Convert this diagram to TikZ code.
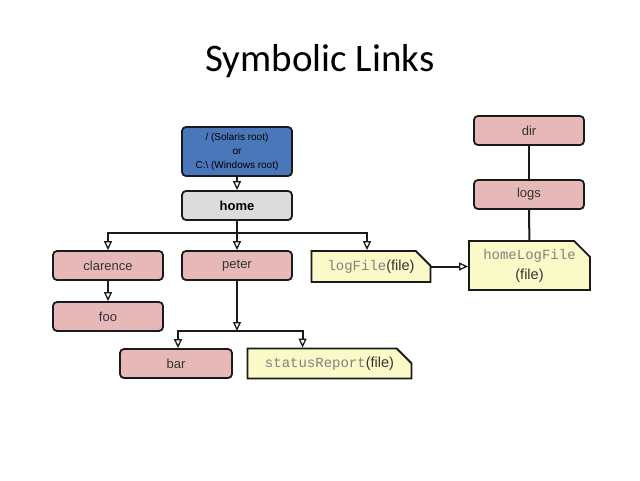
\documentclass[tikz,border=0pt]{standalone}
\usepackage{fontspec}
\setmainfont{Liberation Sans}
\setmonofont{Liberation Mono}
\newfontfamily\titlefont{Carlito}
\usetikzlibrary{arrows.meta,shapes.misc}
\definecolor{pinkfill}{HTML}{E6B9B8}
\definecolor{bluefill}{HTML}{4A76BA}
\definecolor{grayfill}{HTML}{DCDCDC}
\definecolor{filefill}{HTML}{FAFAC8}
\definecolor{edge}{HTML}{1A1A1A}
\definecolor{labeltext}{HTML}{333333}
\definecolor{monotext}{HTML}{808080}
\tikzset{
  box/.style={draw=edge, line width=1.8pt, rounded corners=4pt, minimum width=110pt,
    minimum height=29pt, inner sep=0pt, text=labeltext, font=\fontsize{13}{15}\selectfont},
  dirbox/.style={box, fill=pinkfill},
  filebox/.style={draw=edge, line width=1.8pt, chamfered rectangle,
    chamfered rectangle corners=north east, chamfered rectangle xsep=8pt,
    chamfered rectangle ysep=8pt, fill=filefill, inner sep=0pt, text=labeltext,
    font=\fontsize{14.5}{15}\selectfont, align=center},
  arr/.style={edge, line width=2pt, -{Triangle[open, width=8pt, length=9pt, line width=1.3pt]}},
  ln/.style={edge, line width=2pt}
}
\newcommand{\mt}[1]{{\color{monotext}\ttfamily\fontsize{14}{15}\selectfont #1}}
\begin{document}
\begin{tikzpicture}[x=1pt,y=-1pt]
\useasboundingbox[fill=white] (0,0) rectangle (640,480);
\node[font=\titlefont\fontsize{39}{46}\selectfont, text=black] (title) at (320,61) {Symbolic Links};

\node[box, fill=bluefill, minimum height=49pt, text=black,
  font=\fontsize{10}{14}\selectfont, align=center] (root) at (237,151.5)
  {/ (Solaris root)\\or\\C:\textbackslash\ (Windows root)};
\node[box, fill=grayfill, text=black, font=\fontsize{13}{15}\selectfont\bfseries] (home) at (237,205.5) {home};
\node[dirbox] (clarence) at (108,265.5) {clarence};
\node[dirbox] (peter) at (237,265.5) {peter};
\node[filebox, minimum width=119pt, minimum height=31pt] (logfile) at (371,266.5) {\mt{logFile}(file)};
\node[dirbox] (foo) at (108,316.5) {foo};
\node[dirbox, minimum width=112pt] (bar) at (176,363.5) {bar};
\node[filebox, minimum width=164pt, minimum height=30pt] (status) at (329.5,363.5) {\mt{statusReport}(file)};
\node[dirbox] (dir) at (529,130.5) {dir};
\node[dirbox] (logs) at (529,194.5) {logs};
\node[filebox, minimum width=121pt, minimum height=49pt, font=\fontsize{14.5}{20}\selectfont] (homelog) at (529.5,265.5) {\mt{homeLogFile}\\(file)};

\coordinate (hj) at (237,233);
\coordinate (pj) at (237,331);

\draw[arr] (root) -- (home);
\draw[ln] (home) -- (hj);
\draw[arr] (hj) -| (clarence);
\draw[arr] (hj) -- (peter);
\draw[arr] (hj) -| ([xshift=-4pt]logfile.north);
\draw[arr] (clarence) -- (foo);
\draw[arr] (peter) -- (pj);
\draw[arr] (pj) -| ([xshift=2pt]bar.north);
\draw[arr] (pj) -| ([xshift=56pt]status.north west);
\draw[arr] (logfile.east) -- (logfile.east -| homelog.west);
\draw[ln] (dir) -- (logs);
\draw[ln] (logs) -- (homelog);
\end{tikzpicture}
\end{document}
